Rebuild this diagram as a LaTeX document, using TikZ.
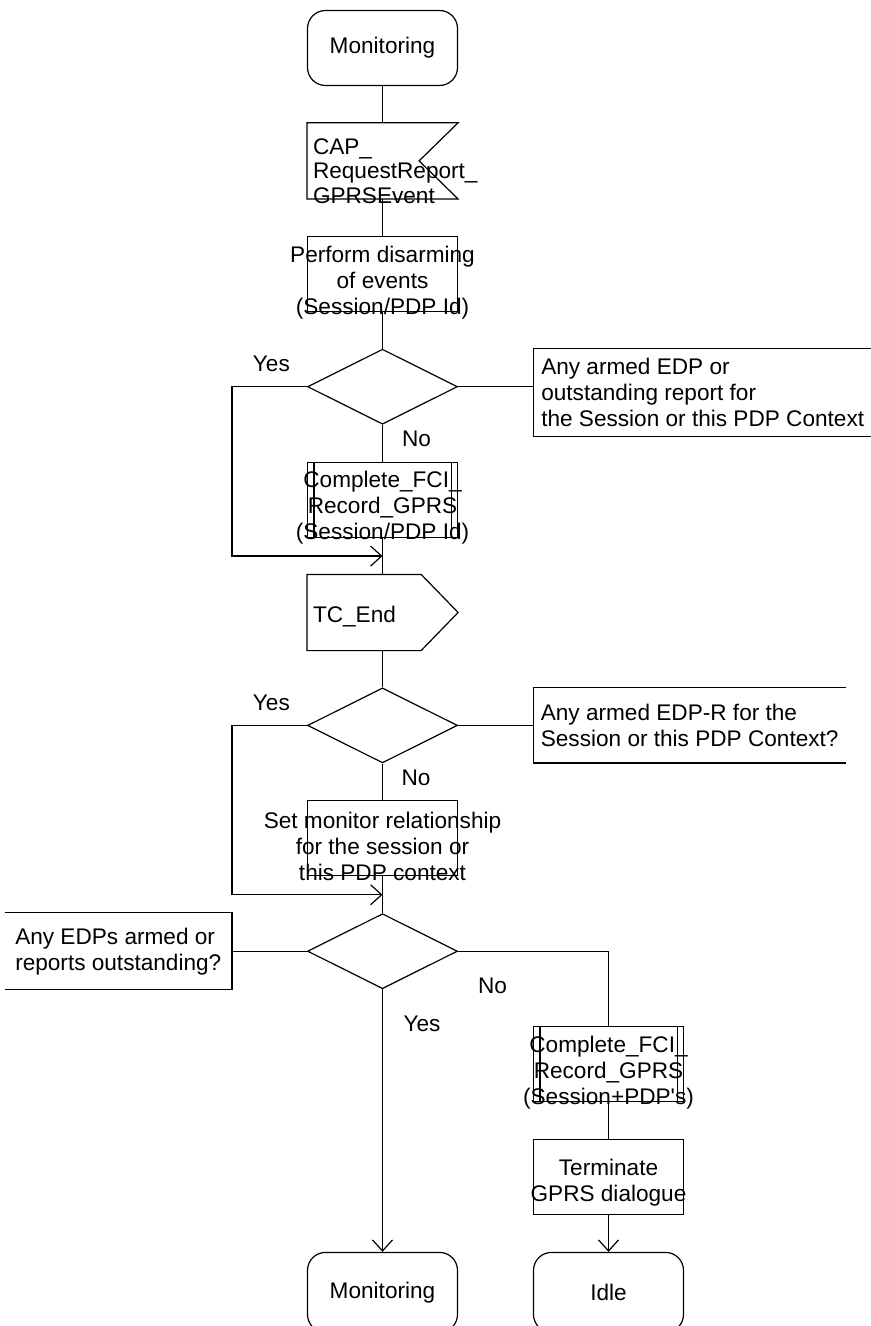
\documentclass[tikz,border=0pt]{standalone}
\usepackage{fontspec}
\setmainfont{Liberation Sans}
\usetikzlibrary{shapes.geometric,arrows.meta,positioning,calc}

\begin{document}
\begin{tikzpicture}[
  x=0.5pt, y=-0.5pt,
  line width=0.6pt,
  node distance=18.35pt and 37.5pt,
  every node/.style={font=\fontsize{11.3pt}{13pt}\selectfont},
  statebox/.style={draw, rounded corners=9pt, minimum width=75pt,
                   minimum height=37.5pt, inner sep=0pt},
  sigbox/.style  ={minimum width=75pt, minimum height=37.5pt, inner sep=0pt},
  taskbox/.style ={draw, minimum width=75pt, minimum height=37.5pt, inner sep=0pt},
  choice/.style  ={diamond, draw, minimum width=75pt, minimum height=37.5pt,
                   inner sep=0pt},
  cmtbox/.style  ={align=left, inner sep=0pt},
  txt/.style     ={align=center, inner sep=0pt},
  lbl/.style     ={inner sep=0pt},
  arr/.style     ={-{Straight Barb[length=5.5pt, width=10pt]}}
]
  \useasboundingbox (0,0) rectangle (871,1326);

  \node[statebox]                  (mon1)  at (382.5,48) {Monitoring};
  \node[sigbox,  below=of mon1]    (req)   {};
  \node[taskbox, below=of req]     (dis)   {};
  \node[choice,  below=of dis]     (q1)    {};
  \node[taskbox, below=of q1]      (fci1)  {};
  \node[sigbox,  below=of fci1]    (tcend) {};
  \node[choice,  below=of tcend]   (q2)    {};
  \node[taskbox, below=of q2]      (mrel)  {};
  \node[choice,  below=of mrel]    (q3)    {};

  \node[taskbox, below=of q3, xshift=113pt] (fci2) {};
  \node[taskbox, below=of fci2]             (term) {};
  \node[statebox, below=of term, minimum height=40pt] (idle) {Idle};
  \node[statebox, minimum height=40pt] (mon2) at (q3 |- idle) {Monitoring};

  \node[cmtbox, right=of q1, yshift=-3pt, minimum width=169pt, minimum height=43.5pt] (c1)
       {Any armed EDP or\\outstanding report for\\the Session or this PDP Context};
  \node[cmtbox, right=of q2, minimum width=156pt, minimum height=37pt] (c2)
       {Any armed EDP-R for the\\Session or this PDP Context?};
  \node[cmtbox, left=of q3, minimum width=113pt, minimum height=38pt] (c3)
       {Any EDPs armed or\\reports outstanding?};

  \node[txt, align=left, anchor=west, font=\fontsize{11.3pt}{12.3pt}\selectfont] (reqt)
       at ([xshift=2.75pt,yshift=-5pt]req.west) {CAP\_\\RequestReport\_\\GPRSEvent};
  \node[txt] (dist)  at ([yshift=-4.25pt]dis.center)  {Perform disarming\\of events\\(Session/PDP Id)};
  \node[txt] (fci1t) at ([yshift=-4.25pt]fci1.center) {Complete\_FCI\_\\Record\_GPRS\\(Session/PDP Id)};
  \node[txt, anchor=west] (tcendt) at ([xshift=2.75pt,yshift=-2pt]tcend.west) {TC\_End};
  \node[txt] (mrelt) at ([yshift=-4pt]mrel.center) {Set monitor relationship\\for the session or\\this PDP context};
  \node[txt] (fci2t) at ([yshift=-4.5pt]fci2.center) {Complete\_FCI\_\\Record\_GPRS\\(Session+PDP\textquotesingle s)};
  \node[txt] (termt) at ([yshift=-2.75pt]term.center) {Terminate\\GPRS dialogue};

  \node[lbl] (y1) at ([xshift=-17.75pt,yshift=11.5pt]q1.west)  {Yes};
  \node[lbl] (n1) at ([xshift=17pt,yshift=-7.25pt]q1.south)    {No};
  \node[lbl] (y2) at ([xshift=-17.75pt,yshift=11.5pt]q2.west)  {Yes};
  \node[lbl] (n2) at ([xshift=16.75pt,yshift=-7pt]q2.south)    {No};
  \node[lbl] (n3) at ([xshift=17.25pt,yshift=-17.5pt]q3.east)  {No};
  \node[lbl] (y3) at ([xshift=19.75pt,yshift=-17.5pt]q3.south) {Yes};

  \draw (req.north west) -- (req.north east) -- ([xshift=-19.5pt]req.east)
        -- (req.south east) -- (req.south west) -- cycle;
  \draw (tcend.north west) -- ([xshift=-18.5pt]tcend.north east) -- (tcend.east)
        -- ([xshift=-18.5pt]tcend.south east) -- (tcend.south west) -- cycle;
  \draw ([xshift=3.5pt]fci1.north west) -- ([xshift=3.5pt]fci1.south west);
  \draw ([xshift=-3.5pt]fci1.north east) -- ([xshift=-3.5pt]fci1.south east);
  \draw ([xshift=3.5pt]fci2.north west) -- ([xshift=3.5pt]fci2.south west);
  \draw ([xshift=-3.5pt]fci2.north east) -- ([xshift=-3.5pt]fci2.south east);
  \draw (c1.north east) -- (c1.north west) -- (c1.south west) -- (c1.south east);
  \draw (c2.north east) -- (c2.north west) -- (c2.south west) -- (c2.south east);
  \draw (c3.north west) -- (c3.north east) -- (c3.south east) -- (c3.south west);

  \coordinate (j1) at ($(fci1.south)!0.5!(tcend.north)$);
  \coordinate (j2) at ($(mrel.south)!0.5!(q3.north)$);

  \draw (mon1) -- (req);
  \draw (req) -- (dis);
  \draw (dis) -- (q1);
  \draw (q1) -- (fci1);
  \draw (fci1) -- (tcend);
  \draw (tcend) -- (q2);
  \draw (q2) -- (mrel);
  \draw (mrel) -- (q3);
  \draw[arr] (q1.west) -- ++(-37.5pt,0) |- (j1);
  \draw[arr] (q2.west) -- ++(-37.5pt,0) |- (j2);
  \draw (q1.east) -- (q1.east -| c1.west);
  \draw (q2.east) -- (q2.east -| c2.west);
  \draw (q3.west) -- (q3.west -| c3.east);
  \draw[arr] (q3) -- (mon2);
  \draw (q3.east) -| (fci2);
  \draw (fci2) -- (term);
  \draw[arr] (term) -- (idle);
\end{tikzpicture}
\end{document}
